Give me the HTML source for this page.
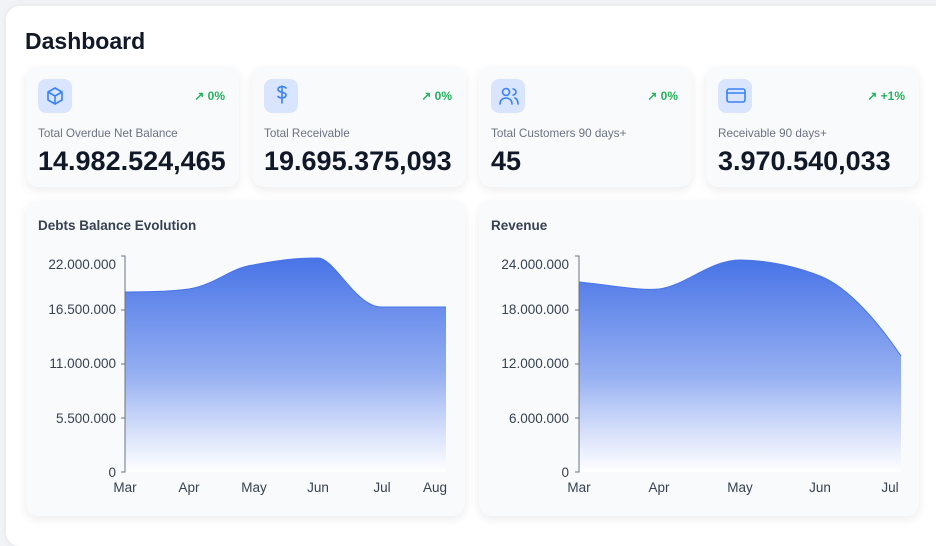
<!DOCTYPE html>
<html><head><style>
body{margin:0;width:936px;height:526px;overflow:hidden;background:#f1f3f6;font-family:"Liberation Sans",sans-serif;position:relative}
.panel{position:absolute;left:6px;top:6px;width:960px;height:540px;background:#fff;border-radius:14px;box-shadow:0 0 8px rgba(0,0,0,.06)}
h1{position:absolute;left:25px;top:28px;margin:0;font-size:23px;font-weight:700;color:#111827}
.card{position:absolute;background:#f9fafc;border-radius:12px;box-shadow:0 3px 10px rgba(0,0,0,.08)}
.ic{position:absolute;left:12px;top:12px;width:34px;height:34px;border-radius:8px;background:#d8e5fd}
.pct{position:absolute;right:14px;top:22px;font-size:12px;font-weight:700;color:#22b35c}
.lbl{position:absolute;left:12px;top:60px;font-size:11.7px;color:#6b7280}
.val{position:absolute;left:12px;top:79px;font-size:27px;font-weight:700;color:#111827}
.ct{position:absolute;left:12px;top:17px;font-size:13.5px;font-weight:700;color:#374151}
</style></head><body>
<div class="panel"></div>
<h1>Dashboard</h1>
<div class="card" style="left:26px;top:67px;width:213px;height:120px"><div class="ic"></div><div class="pct">↗ 0%</div><div class="lbl">Total Overdue Net Balance</div><div class="val">14.982.524,465</div></div>
<div class="card" style="left:252px;top:67px;width:214px;height:120px"><div class="ic"></div><div class="pct">↗ 0%</div><div class="lbl">Total Receivable</div><div class="val">19.695.375,093</div></div>
<div class="card" style="left:479px;top:67px;width:213px;height:120px"><div class="ic"></div><div class="pct">↗ 0%</div><div class="lbl">Total Customers 90 days+</div><div class="val">45</div></div>
<div class="card" style="left:706px;top:67px;width:213px;height:120px"><div class="ic"></div><div class="pct">↗ +1%</div><div class="lbl">Receivable 90 days+</div><div class="val">3.970.540,033</div></div>
<div class="card" style="left:26px;top:201px;width:439px;height:315px"><div class="ct">Debts Balance Evolution</div></div>
<div class="card" style="left:479px;top:201px;width:440px;height:315px"><div class="ct">Revenue</div></div>
<svg width="936" height="526" style="position:absolute;left:0;top:0" font-family="Liberation Sans, sans-serif">
<defs><linearGradient id="g" x1="0" y1="0" x2="0" y2="1"><stop offset="0" stop-color="#4874e6"/><stop offset="0.55" stop-color="#97b0f2"/><stop offset="1" stop-color="#fff" stop-opacity="0.9"/></linearGradient></defs>
<g fill="none" stroke="#3b82f6" stroke-width="1.6" stroke-linejoin="round" stroke-linecap="round">
<path d="M55 88l7 4v8l-7 4-7-4v-8z M48 92l7 4 7-4 M55 96v8"/>
<path d="M286 88c-2-2-8-2-8 1.5s8 2 8 5.5-6 3.5-8 1.5 M282 86v17"/>
<circle cx="506" cy="92" r="3.5"/><path d="M500 104c0-4 3-6 6-6s6 2 6 6 M513 89a3 3 0 0 1 0 6 M515 98c2 1 3 3 3 6"/>
<rect x="727" y="89" width="18" height="13" rx="2"/><path d="M727 93h18"/>
</g>
<path d="M125 292C150 292 175 291 189 289C215 285 230 268 253 265C280 260 295 258 318 258C335 258 355 307 382 307L446 307V472H125Z" fill="url(#g)"/>
<path d="M125 292C150 292 175 291 189 289C215 285 230 268 253 265C280 260 295 258 318 258C335 258 355 307 382 307L446 307" fill="none" stroke="#4a74e8" stroke-width="1"/>
<g stroke="#6b7280" stroke-width="1" fill="none"><path d="M121 256H125V472H121 M121 310H125 M121 364H125 M121 418H125"/></g>
<g font-size="13.5" fill="#374151" text-anchor="end"><text x="116" y="269">22.000.000</text><text x="116" y="314">16.500.000</text><text x="116" y="368">11.000.000</text><text x="116" y="423">5.500.000</text><text x="116" y="477">0</text></g>
<g font-size="13.5" fill="#374151" text-anchor="middle"><text x="125" y="492">Mar</text><text x="189" y="492">Apr</text><text x="254" y="492">May</text><text x="318" y="492">Jun</text><text x="382" y="492">Jul</text><text x="435" y="492">Aug</text></g>
<path d="M579 282C610 285 640 291 659 289C685 286 710 260 740 260C770 260 800 268 820 276C850 288 880 325 901 356V472H579Z" fill="url(#g)"/>
<path d="M579 282C610 285 640 291 659 289C685 286 710 260 740 260C770 260 800 268 820 276C850 288 880 325 901 356" fill="none" stroke="#4a74e8" stroke-width="1"/>
<g stroke="#6b7280" stroke-width="1" fill="none"><path d="M575 256H579V472H575 M575 310H579 M575 364H579 M575 418H579"/></g>
<g font-size="13.5" fill="#374151" text-anchor="end"><text x="569" y="269">24.000.000</text><text x="569" y="314">18.000.000</text><text x="569" y="368">12.000.000</text><text x="569" y="423">6.000.000</text><text x="569" y="477">0</text></g>
<g font-size="13.5" fill="#374151" text-anchor="middle"><text x="579" y="492">Mar</text><text x="659" y="492">Apr</text><text x="740" y="492">May</text><text x="820" y="492">Jun</text><text x="890" y="492">Jul</text></g>
</svg>
</body></html>
